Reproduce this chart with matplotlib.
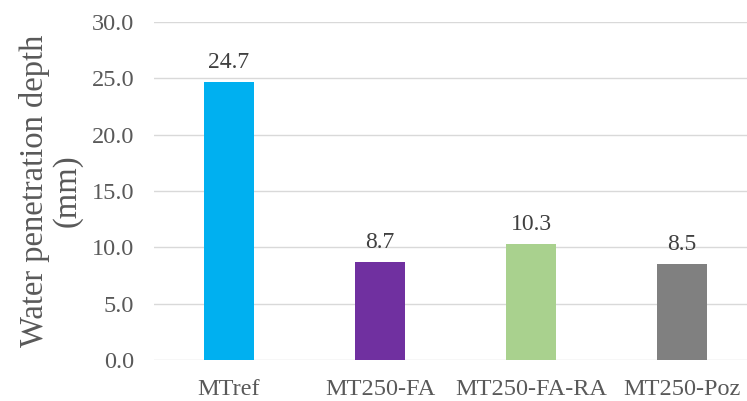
import matplotlib.pyplot as plt
import numpy as np

cats = ['MTref', 'MT250-FA', 'MT250-FA-RA', 'MT250-Poz']
vals = [24.7, 8.7, 10.3, 8.5]
cols = ['#00b0f0', '#7030a0', '#a9d18e', '#808080']

plt.rcParams['font.family'] = ['Liberation Serif', 'DejaVu Serif']

fig = plt.figure(figsize=(7.47, 4.01), dpi=100)
ax = fig.add_axes([153.5/747, 41/401, 604/747, 338/401])

x = np.arange(len(cats))
ax.bar(x, vals, width=0.325, color=cols, zorder=3)
for xi, v in zip(x, vals):
    ax.text(xi, v + 0.8, f'{v:.1f}', ha='center', va='bottom', fontsize=17, color='#404040')

ax.set_xlim(-0.5, 3.5)
ax.set_ylim(0, 30)
ax.set_yticks(np.arange(0, 31, 5))
ax.set_yticklabels([f'{t:.1f}' for t in np.arange(0, 31, 5)])
ax.set_xticks(x)
ax.set_xticklabels(cats)
ax.tick_params(axis='both', length=0, labelsize=17.5, labelcolor='#595959')
ax.tick_params(axis='x', pad=14)
ax.tick_params(axis='y', pad=14)
ax.grid(axis='y', color='#d9d9d9', lw=1, zorder=0)
for s in ax.spines.values():
    s.set_visible(False)
ax.set_ylabel('Water penetration depth\n(mm)', fontsize=23.5, color='#595959', linespacing=1.1, labelpad=6)

fig.savefig('out.png', dpi=100)
